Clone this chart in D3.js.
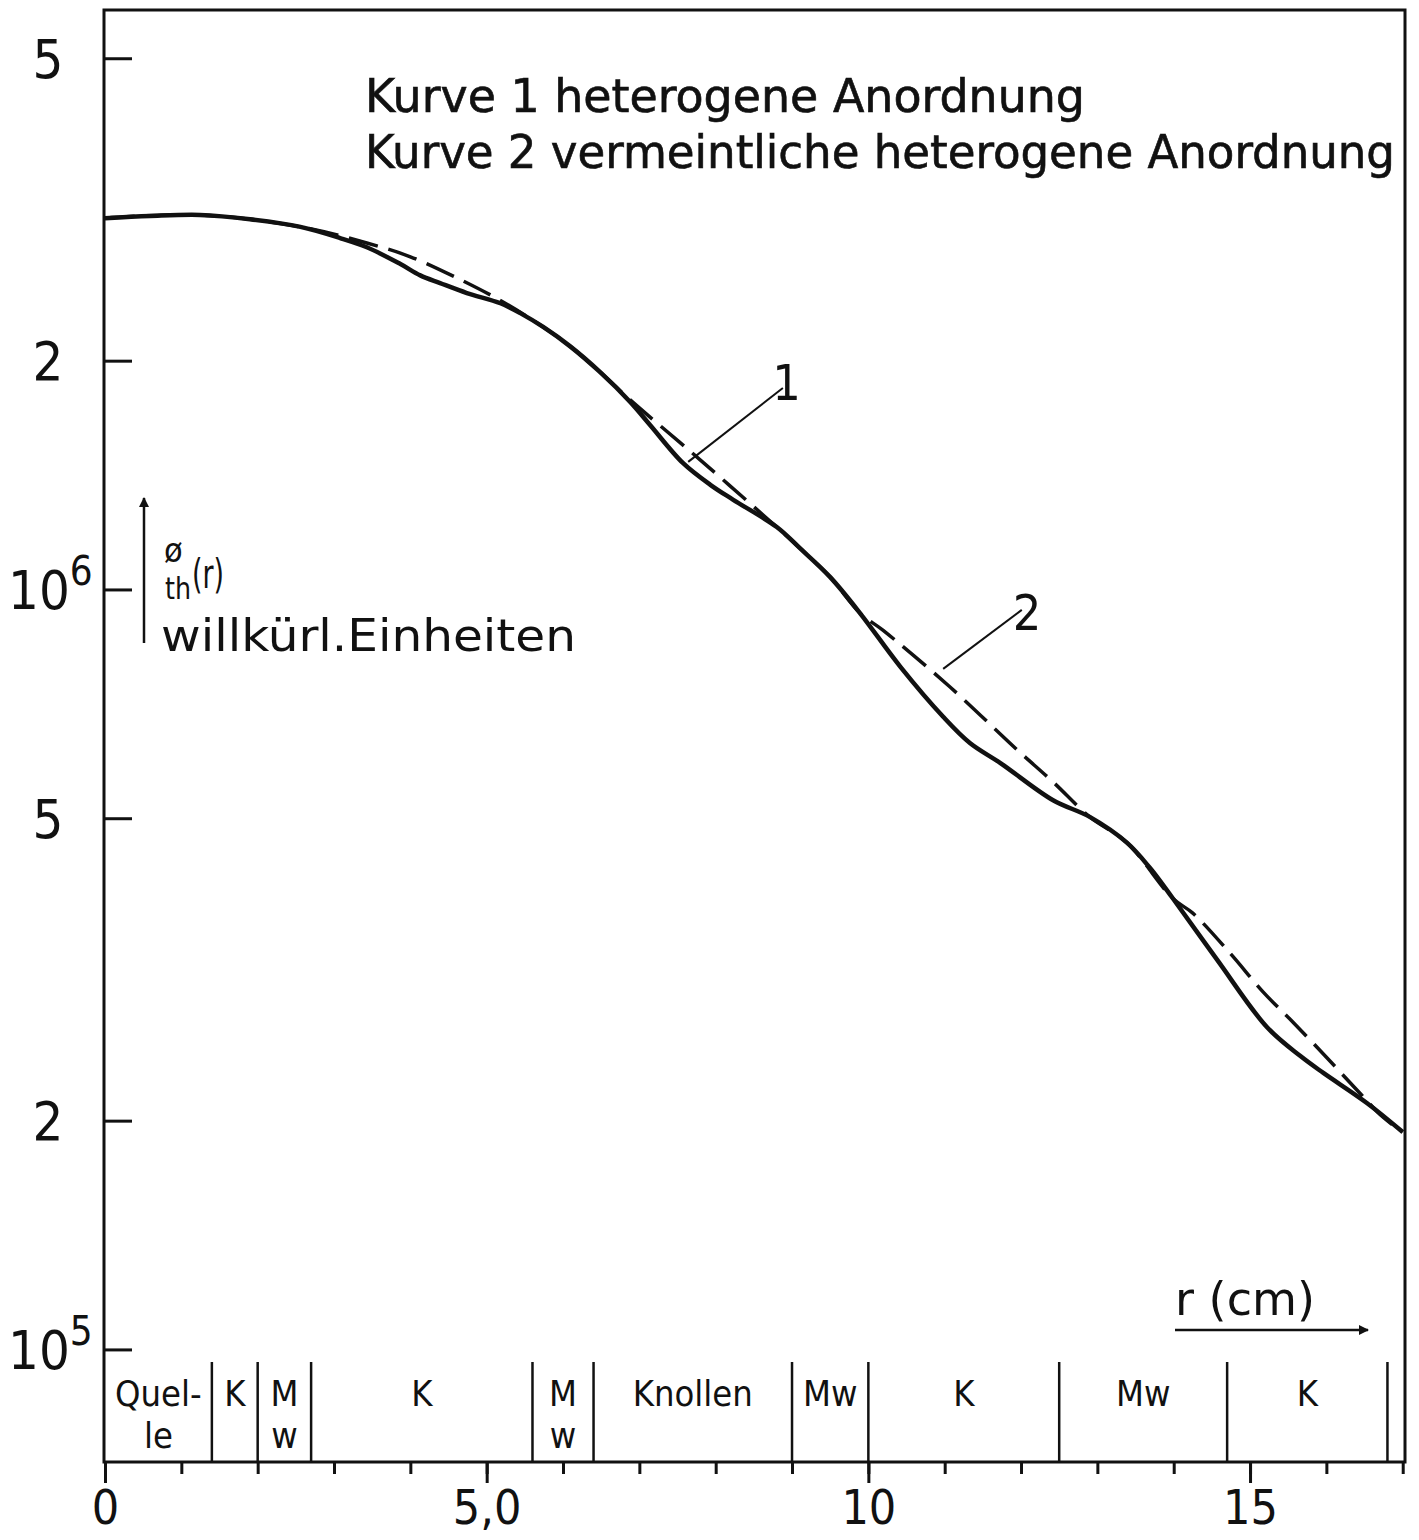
<!DOCTYPE html>
<html><head><meta charset="utf-8">
<script src="https://cdn.jsdelivr.net/npm/d3@7"></script>
<style>
body{margin:0;background:#fff}
svg{display:block;background:#fff}
text{font-family:"Liberation Sans Narrow","DejaVu Sans Condensed",Roboto,"DejaVu Sans",sans-serif;fill:#111}
</style>
</head><body>
<svg id="c" width="1419" height="1540"></svg>
<script>
// ---- data (r in cm, phi_th in arbitrary units) ----
const curve1R   = [0,0.59,1.245,1.90,2.56,3.08,3.43,3.87,4.13,4.39,4.74,5.18,5.44,5.74,6.09,6.49,6.88,7.14,7.57,7.93,8.23,8.80,9.10,9.50,9.89,10.42,10.98,11.33,11.73,12.42,12.90,13.39,13.69,13.99,14.57,15.22,15.66,15.96,16.53,17.00];
const curve1Phi = [3.08e6,3.10e6,3.11e6,3.07e6,3.00e6,2.90e6,2.82e6,2.68e6,2.59e6,2.53e6,2.455e6,2.38e6,2.31e6,2.215e6,2.09e6,1.93e6,1.765e6,1.646e6,1.467e6,1.373e6,1.312e6,1.208e6,1.134e6,1.038e6,9.31e5,7.91e5,6.80e5,6.28e5,5.91e5,5.28e5,5.02e5,4.64e5,4.30e5,3.92e5,3.255e5,2.656e5,2.432e5,2.311e5,2.11e5,1.932e5];

const curve2R   = [0,1.245,2.56,3.43,4.00,4.61,5.18,5.74,6.09,6.49,6.88,7.80,8.80,9.10,9.50,9.89,10.19,11.07,11.95,12.42,12.90,13.39,13.99,14.25,14.74,15.17,15.56,16.01,16.40,16.74,17.00];
const curve2Phi = [3.08e6,3.11e6,3.00e6,2.857e6,2.74e6,2.57e6,2.40e6,2.215e6,2.09e6,1.93e6,1.776e6,1.48e6,1.208e6,1.134e6,1.038e6,9.31e5,8.84e5,7.44e5,6.15e5,5.58e5,5.02e5,4.64e5,3.92e5,3.75e5,3.32e5,2.954e5,2.697e5,2.418e5,2.195e5,2.022e5,1.932e5];

const yTickValues = [1e5,2e5,5e5,1e6,2e6,5e6];
const yTickMant   = ["10","2","5","10","2","5"];
const yTickExp    = ["5","","","6","",""];
const xTickMinor  = d3.range(0,18);
const xTickMajor  = [0,5,10,15];
const xTickLabels = ["0","5,0","10","15"];

const zoneBounds  = [1.4,2.0,2.7,5.6,6.4,9.0,10.0,12.5,14.7,16.8];
const zoneStart   = [0,1.4,2.0,2.7,5.6,6.4,9.0,10.0,12.5,14.7];
const zoneEnd     = [1.4,2.0,2.7,5.6,6.4,9.0,10.0,12.5,14.7,16.8];
const zoneLine1   = ["Quel-","K","M","K","M","Knollen","Mw","K","Mw","K"];
const zoneLine2   = ["le","","w","","w","","","","",""];

const legendLines = ["Kurve 1 heterogene Anordnung","Kurve  2 vermeintliche heterogene Anordnung"];

// curve annotations
const annoText = ["1","2"];
const annoLabelR = [8.93,12.08], annoLabelPhi = [1.776e6,8.84e5];
const annoFromR = [7.64,10.98], annoFromPhi = [1.472e6,7.86e5];
const annoToR = [8.88,12.01], annoToPhi = [1.841e6,9.40e5];

// ---- layout ----
const FONT = '"Liberation Sans Narrow","DejaVu Sans Condensed",Roboto,"DejaVu Sans",sans-serif';
const X0=104, X1=1405, Y0=10, Y1=1462;
const svg = d3.select("#c");
const x = d3.scaleLinear().domain([0,17.03]).range([105,1405]);
const y = d3.scaleLog().domain([7.11e4,5.787e6]).range([Y1,Y0]);

// frame
svg.append("rect").attr("x",X0).attr("y",Y0).attr("width",X1-X0).attr("height",Y1-Y0)
  .attr("fill","none").attr("stroke","#111").attr("stroke-width",3);

// y ticks (inward)
const ya = svg.append("g").attr("transform",`translate(${X0},0)`)
  .call(d3.axisRight(y).tickValues(yTickValues).tickSize(28).tickFormat(""));
ya.select(".domain").remove();
ya.selectAll("line").attr("stroke","#111").attr("stroke-width",3);

// y tick labels
yTickValues.forEach((v,i)=>{
  const t = svg.append("text").attr("font-size",54).attr("dy","0.36em");
  if (yTickExp[i]) {
    t.attr("x",8).attr("y",y(v));
    t.append("tspan").text(yTickMant[i]);
    t.append("tspan").attr("font-size",40).attr("dy",-24).text(yTickExp[i]);
  } else {
    t.attr("x",48).attr("y",y(v)).attr("text-anchor","middle").text(yTickMant[i]);
  }
});

// x ticks
const xa = svg.append("g").attr("transform",`translate(0,${Y1})`)
  .call(d3.axisBottom(x).tickValues(xTickMinor).tickSize(12).tickFormat(""));
xa.select(".domain").remove();
xa.selectAll("line").attr("stroke","#111").attr("stroke-width",3);
const xb = svg.append("g").attr("transform",`translate(0,${Y1})`)
  .call(d3.axisBottom(x).tickValues(xTickMajor).tickSize(21).tickPadding(7)
        .tickFormat((d,i)=>xTickLabels[i]));
xb.select(".domain").remove();
xb.selectAll("line").attr("stroke","#111").attr("stroke-width",3);
xb.selectAll("text").attr("font-size",48).attr("fill","#111").style("font-family",FONT);

// zone separators
svg.append("g").selectAll("line").data(zoneBounds).join("line")
  .attr("x1",d=>x(d)).attr("x2",d=>x(d)).attr("y1",1362).attr("y2",Y1)
  .attr("stroke","#111").attr("stroke-width",2.5);
zoneLine1.forEach((t,i)=>{
  const cx = x((zoneStart[i]+zoneEnd[i])/2);
  svg.append("text").attr("x",cx).attr("y",1406).attr("text-anchor","middle").attr("font-size",36).text(t);
  if (zoneLine2[i]) svg.append("text").attr("x",cx).attr("y",1448).attr("text-anchor","middle").attr("font-size",36).text(zoneLine2[i]);
});

// curves
const line = d3.line().x(d=>x(d[0])).y(d=>y(d[1])).curve(d3.curveCatmullRom.alpha(0.5));
svg.append("path").datum(curve2R.map((r,i)=>[r,curve2Phi[i]]))
  .attr("d",line).attr("fill","none").attr("stroke","#111").attr("stroke-width",3.5)
  .attr("stroke-dasharray","30,11");
svg.append("path").datum(curve1R.map((r,i)=>[r,curve1Phi[i]]))
  .attr("d",line).attr("fill","none").attr("stroke","#111").attr("stroke-width",4.5);

// annotations
annoText.forEach((t,i)=>{
  svg.append("line").attr("x1",x(annoFromR[i])).attr("y1",y(annoFromPhi[i]))
    .attr("x2",x(annoToR[i])).attr("y2",y(annoToPhi[i])).attr("stroke","#111").attr("stroke-width",2);
  svg.append("text").attr("x",x(annoLabelR[i])).attr("y",y(annoLabelPhi[i]))
    .attr("text-anchor","middle").attr("font-size",50).text(t);
});

// legend text
svg.append("text").attr("x",365).attr("y",112).attr("font-size",47)
  .attr("stroke","#111").attr("stroke-width",0.6)
  .attr("textLength",720).attr("lengthAdjust","spacingAndGlyphs").text(legendLines[0]);
svg.append("text").attr("x",365).attr("y",168).attr("font-size",47)
  .attr("stroke","#111").attr("stroke-width",0.6)
  .attr("textLength",1030).attr("lengthAdjust","spacingAndGlyphs").text(legendLines[1]);

// arrow marker
const defs = svg.append("defs");
defs.append("marker").attr("id","ah").attr("viewBox","0 0 10 10").attr("refX",9).attr("refY",5)
  .attr("markerWidth",22).attr("markerHeight",10).attr("orient","auto").attr("markerUnits","userSpaceOnUse")
  .append("path").attr("d","M0,0 L10,5 L0,10 z").attr("fill","#111");

// y-axis label
svg.append("line").attr("x1",144).attr("y1",643).attr("x2",144).attr("y2",498)
  .attr("stroke","#111").attr("stroke-width",2.5).attr("marker-end","url(#ah)");
svg.append("text").attr("x",164).attr("y",562).attr("font-size",34).text("ø");
svg.append("text").attr("x",165).attr("y",599).attr("font-size",31)
  .attr("textLength",26).attr("lengthAdjust","spacingAndGlyphs").text("th");
svg.append("text").attr("x",192).attr("y",588).attr("font-size",40)
  .attr("textLength",32).attr("lengthAdjust","spacingAndGlyphs").text("(r)");
svg.append("text").attr("x",161).attr("y",651).attr("font-size",44)
  .attr("textLength",415).attr("lengthAdjust","spacingAndGlyphs").text("willkürl.Einheiten");

// x-axis label
svg.append("text").attr("x",1175).attr("y",1315).attr("font-size",46)
  .attr("textLength",140).attr("lengthAdjust","spacingAndGlyphs").text("r (cm)");
svg.append("line").attr("x1",1175).attr("y1",1330).attr("x2",1368).attr("y2",1330)
  .attr("stroke","#111").attr("stroke-width",2.5).attr("marker-end","url(#ah)");
</script>
</body></html>
